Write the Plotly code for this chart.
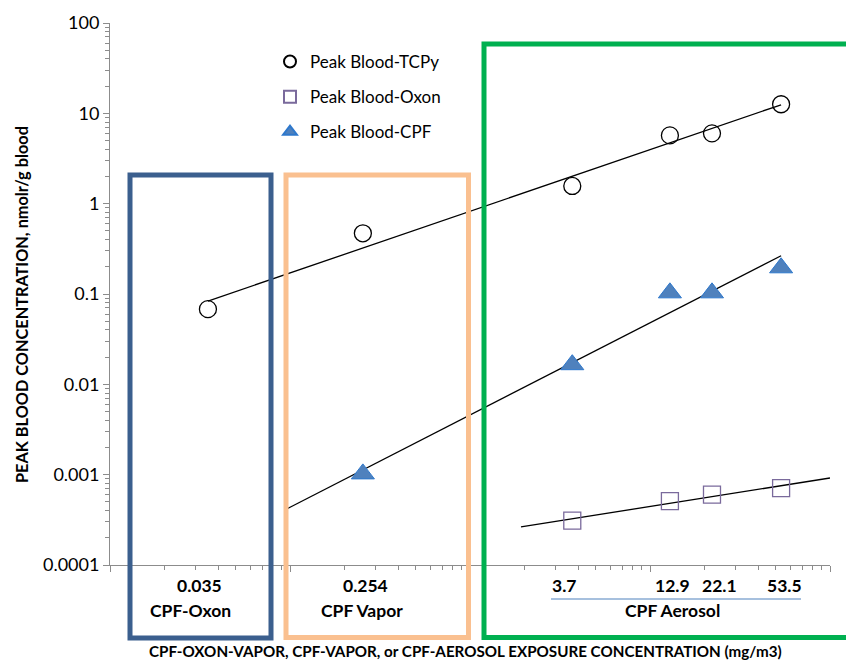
import numpy as np
import plotly.graph_objects as go

# ---------------- data ----------------
exposure = [0.035, 0.254, 3.7, 12.9, 22.1, 53.5]          # mg/m3
exposure_labels = ["0.035", "0.254", "3.7", "12.9", "22.1", "53.5"]

tcpy_x = [0.035, 0.254, 3.7, 12.9, 22.1, 53.5]
tcpy_y = [0.068, 0.47, 1.57, 5.7, 6.0, 12.6]

cpf_x = [0.254, 3.7, 12.9, 22.1, 53.5]
cpf_y = [0.00102, 0.0165, 0.103, 0.103, 0.195]

oxon_x = [3.7, 12.9, 22.1, 53.5]
oxon_y = [0.00031, 0.00051, 0.00060, 0.00071]

# trendline extents (x range of each fitted line)
tcpy_fit_range = [0.035, 53.5]
cpf_fit_range = [0.097, 53.5]
oxon_fit_range = [1.92, 100]

y_tickvals = [0.0001, 0.001, 0.01, 0.1, 1, 10, 100]
y_ticktext = ["0.0001", "0.001", "0.01", "0.1", "1", "10", "100"]

group_labels = ["CPF-Oxon", "CPF Vapor", "CPF Aerosol"]

# ---------------- layout helpers ----------------
W, H = 846, 660
ML, MR, MT, MB = 110, 16, 23, 95
PW, PH = W - ML - MR, H - MT - MB


def xp(px):
    return (px - ML) / PW


def yp(py):
    return (H - MB - py) / PH


FONT = "Lato, Carlito, 'Open Sans', sans-serif"


def power_fit(x, y, rng):
    b, a = np.polyfit(np.log10(x), np.log10(y), 1)
    xs = np.array(rng, dtype=float)
    return xs, 10 ** (a + b * np.log10(xs))


fig = go.Figure()

# trendlines
for xs, ys in (power_fit(tcpy_x, tcpy_y, tcpy_fit_range),
               power_fit(cpf_x, cpf_y, cpf_fit_range),
               power_fit(oxon_x, oxon_y, oxon_fit_range)):
    fig.add_trace(go.Scatter(x=xs, y=ys, mode="lines", showlegend=False,
                             line=dict(color="black", width=1.3),
                             hoverinfo="skip"))

fig.add_trace(go.Scatter(
    x=tcpy_x, y=tcpy_y, mode="markers", name="Peak Blood-TCPy",
    legendgroup="a",
    marker=dict(symbol="circle", size=17, color="rgba(255,255,255,0)",
                line=dict(color="black", width=1.3))))
fig.add_trace(go.Scatter(
    x=oxon_x, y=oxon_y, mode="markers", name="Peak Blood-Oxon",
    legendgroup="b",
    marker=dict(symbol="square", size=17, color="rgba(255,255,255,0)",
                line=dict(color="#7A6A9C", width=1.3))))
fig.add_trace(go.Scatter(
    x=cpf_x, y=cpf_y, mode="markers", name="Peak Blood-CPF",
    legendgroup="c",
    marker=dict(symbol="triangle-up", size=20, color="#4F81BD",
                line=dict(color="#2E78CC", width=1))))

shapes = []
# coloured boxes
shapes.append(dict(type="rect", xref="paper", yref="paper",
                   x0=xp(130), x1=xp(271), y0=yp(638), y1=yp(175),
                   line=dict(color="#3B5F8E", width=5), layer="above"))
shapes.append(dict(type="rect", xref="paper", yref="paper",
                   x0=xp(286), x1=xp(468.5), y0=yp(637.5), y1=yp(175),
                   line=dict(color="#FAC090", width=5), layer="above"))
shapes.append(dict(type="rect", xref="paper", yref="paper",
                   x0=xp(484), x1=xp(870), y0=yp(637.5), y1=yp(44),
                   line=dict(color="#00B050", width=5), layer="above"))
# underline of aerosol labels
shapes.append(dict(type="line", xref="paper", yref="paper",
                   x0=xp(551), x1=xp(801), y0=yp(599), y1=yp(599),
                   line=dict(color="#4F81BD", width=1)))

annotations = []
label_px = [199, 365, 564, 672, 719, 784]
for lab, px in zip(exposure_labels, label_px):
    annotations.append(dict(text="<b>%s</b>" % lab, xref="paper", yref="paper",
                            x=xp(px), y=yp(585), showarrow=False,
                            xanchor="center", yanchor="middle",
                            font=dict(family=FONT, size=17.5, color="black")))
for lab, px in zip(group_labels, [190, 362, 672.5]):
    annotations.append(dict(text="<b>%s</b>" % lab, xref="paper", yref="paper",
                            x=xp(px), y=yp(610), showarrow=False,
                            xanchor="center", yanchor="middle",
                            font=dict(family=FONT, size=17.5, color="black")))
annotations.append(dict(
    text="<b>CPF-OXON-VAPOR, CPF-VAPOR, or CPF-AEROSOL EXPOSURE CONCENTRATION (mg/m3)</b>",
    xref="paper", yref="paper", x=xp(465), y=yp(651), showarrow=False,
    xanchor="center", yanchor="middle",
    font=dict(family=FONT, size=15.2, color="black")))
annotations.append(dict(
    text="<b>PEAK BLOOD CONCENTRATION, nmolr/g blood</b>",
    xref="paper", yref="paper", x=xp(21), y=yp(305), showarrow=False,
    textangle=-90, xanchor="center", yanchor="middle",
    font=dict(family=FONT, size=16.3, color="black")))

fig.update_layout(
    width=W, height=H,
    margin=dict(l=ML, r=MR, t=MT, b=MB, pad=0),
    paper_bgcolor="white", plot_bgcolor="white",
    font=dict(family=FONT, size=15, color="black"),
    shapes=shapes, annotations=annotations,
    showlegend=True,
    legend=dict(x=xp(270), y=yp(44), xanchor="left", yanchor="top",
                bgcolor="rgba(0,0,0,0)", itemsizing="constant",
                tracegroupgap=10, traceorder="grouped",
                font=dict(family=FONT, size=17, color="black")),
)

fig.update_xaxes(type="log", range=[-2, 2], showticklabels=False,
                 showgrid=False, zeroline=False, showline=True,
                 linecolor="#8C8C8C", linewidth=1,
                 ticks="outside", ticklen=6, tickcolor="#8C8C8C", dtick=1,
                 minor=dict(ticks="outside", ticklen=4, tickcolor="#8C8C8C",
                            dtick="D1", showgrid=False))
fig.update_yaxes(type="log", range=[-4, 2], tickmode="array",
                 tickvals=y_tickvals, ticktext=y_ticktext,
                 showgrid=False, zeroline=False, showline=True,
                 linecolor="#8C8C8C", linewidth=1,
                 ticks="outside", ticklen=6, tickcolor="#8C8C8C",
                 tickfont=dict(family=FONT, size=18, color="black"),
                 minor=dict(ticks="outside", ticklen=4, tickcolor="#8C8C8C",
                            dtick="D1", showgrid=False))

fig.write_html("out.html", config={"displayModeBar": False},
               post_script="document.body.style.margin='0';"
                           "document.body.style.overflow='hidden';")
